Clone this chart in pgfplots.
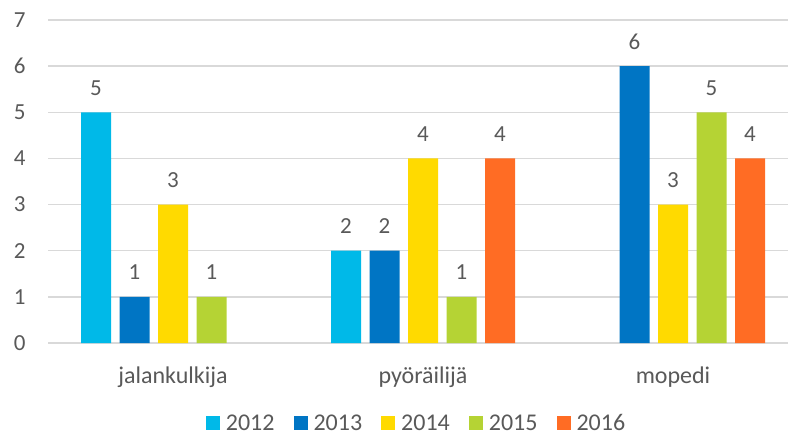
\documentclass[border=0pt]{standalone}
\usepackage{fontspec}
\setmainfont{Carlito}
\usepackage{pgfplots}
\pgfplotsset{compat=1.18}
\definecolor{textgray}{HTML}{595959}
\definecolor{gridgray}{HTML}{D9D9D9}
\definecolor{c2012}{HTML}{00B9E8}
\definecolor{c2013}{HTML}{0075C4}
\definecolor{c2014}{HTML}{FFDA00}
\definecolor{c2015}{HTML}{B5D334}
\definecolor{c2016}{HTML}{FF6C24}
\begin{document}
\begin{tikzpicture}
\begin{axis}[
  scale only axis,
  width=740pt, height=323pt,
  at={(0pt,0pt)}, anchor=south west,
  ybar=8.5pt, bar width=30pt,
  xmin=-0.5, xmax=2.46,
  ymin=0, ymax=7,
  ytick={0,1,...,7},
  xtick={0,1,2},
  xticklabels={jalankulkija,pyöräilijä,mopedi},
  axis line style={draw=none},
  major tick length=0pt,
  ymajorgrids,
  grid style={gridgray, line width=1.5pt},
  font=\fontsize{23}{27}\selectfont,
  /pgf/number format/assume math mode=true,
  tick label style={text=textgray},
  yticklabel style={xshift=-19pt},
  xticklabel style={yshift=-20pt, font=\fontsize{24}{28}\selectfont},
  nodes near coords,
  every node near coord/.append style={anchor=base, yshift=17pt, text=textgray, font=\fontsize{23}{27}\selectfont},
  legend columns=-1,
  legend style={at={(0.498,-0.249)}, anchor=center, draw=none, fill=none,
    font=\fontsize{24}{28}\selectfont, text=textgray,
    nodes={inner ysep=1pt},
    /tikz/every odd column/.style={column sep=4pt},
    /tikz/every even column/.style={column sep=17pt}},
  legend image code/.code={\fill[#1] (0pt,-7pt) rectangle (14pt,7pt);},
]
\addplot[fill=c2012, draw=none] coordinates {(0,5) (1,2)};
\addplot[fill=c2013, draw=none] coordinates {(0,1) (1,2) (2,6)};
\addplot[fill=c2014, draw=none] coordinates {(0,3) (1,4) (2,3)};
\addplot[fill=c2015, draw=none] coordinates {(0,1) (1,1) (2,5)};
\addplot[fill=c2016, draw=none] coordinates {(1,4) (2,4)};
\legend{2012,2013,2014,2015,2016}
\end{axis}
\pgfresetboundingbox
\path[use as bounding box] (-48pt,-94pt) rectangle (740pt,343pt);
\end{tikzpicture}
\end{document}
